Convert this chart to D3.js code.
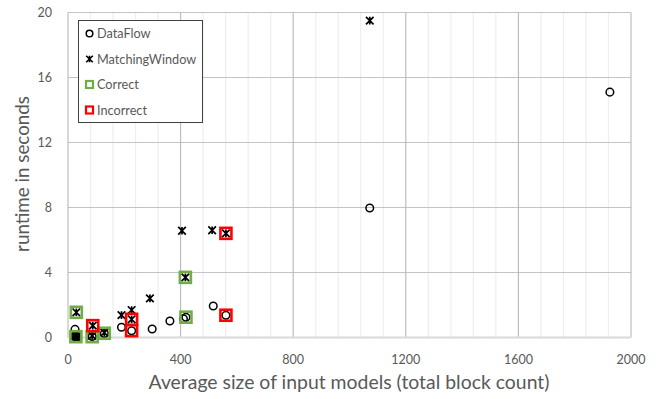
<!DOCTYPE html>
<html>
<head>
<meta charset="utf-8">
<script src="https://cdn.jsdelivr.net/npm/d3@7/dist/d3.min.js"></script>
<style>
  html, body { margin: 0; padding: 0; background: #fff; }
  svg { display: block; font-family: Lato, "Open Sans", sans-serif; }
</style>
</head>
<body>
<svg id="chart" width="664" height="399"></svg>
<script>
// ---- data (x = average block count, y = runtime seconds) ----
const dataFlow = [
  [24, 0.06], [28, 0.1], [32, 0.03], [25, 0.5],
  [86, 0.06], [129, 0.25],
  [190, 0.63], [226, 0.42], [299, 0.52], [362, 1.02],
  [410, 1.15], [419, 1.25], [516, 1.94], [561, 1.37],
  [1072, 7.97], [1925, 15.1]
];
const matchingWindow = [
  [29.6, 1.55], [26, 0.08], [31, 0.05], [86, 0.1], [88, 0.73], [129, 0.3],
  [190, 1.38], [226, 1.69], [226, 1.12], [291, 2.41],
  [405, 6.57], [417, 3.7], [512, 6.6], [561, 6.41], [1072, 19.5]
];
const correct = [
  [29.6, 1.55], [28, 0.05], [86, 0.05], [129, 0.26], [417, 3.7], [419, 1.25]
];
const incorrect = [
  [88, 0.73], [226, 1.12], [226, 0.42], [561, 6.41], [561, 1.37]
];
const xTicks = [0, 400, 800, 1200, 1600, 2000];
const yTicks = [0, 4, 8, 12, 16, 20];
const seriesNames = ["DataFlow", "MatchingWindow", "Correct", "Incorrect"];
const xTitle = "Average size of input models (total block count)";
const yTitle = "runtime in seconds";

// ---- layout ----
const svg = d3.select("#chart");
const x = d3.scaleLinear().domain([0, 2000]).range([68, 631]);
const y = d3.scaleLinear().domain([0, 20]).range([337.5, 12.5]);
const textColor = "#595959";

// minor vertical gridlines
const minor = d3.range(0, 2001, 80).filter(v => v % 400 !== 0);
svg.append("g").selectAll("line").data(minor).join("line")
  .attr("x1", d => x(d)).attr("x2", d => x(d))
  .attr("y1", y(20)).attr("y2", y(0))
  .attr("stroke", "#eeeeee").attr("stroke-width", 1.2);

// major horizontal gridlines
svg.append("g").selectAll("line").data(yTicks.filter(d => d > 0)).join("line")
  .attr("x1", x(0)).attr("x2", x(2000))
  .attr("y1", d => y(d)).attr("y2", d => y(d))
  .attr("stroke", "#c4c4c4").attr("stroke-width", 1.1);

// major vertical gridlines
svg.append("g").selectAll("line").data(xTicks).join("line")
  .attr("x1", d => x(d)).attr("x2", d => x(d))
  .attr("y1", y(20)).attr("y2", y(0))
  .attr("stroke", "#b8b8b8").attr("stroke-width", 1.1);

// x axis baseline
svg.append("line")
  .attr("x1", x(0)).attr("x2", x(2000)).attr("y1", y(0)).attr("y2", y(0))
  .attr("stroke", "#d9d9d9").attr("stroke-width", 2);

// tick labels
svg.append("g").selectAll("text").data(xTicks).join("text")
  .attr("x", d => x(d)).attr("y", 363.5)
  .attr("text-anchor", "middle").attr("font-size", 12.5).attr("fill", textColor)
  .text(d => d);
svg.append("g").selectAll("text").data(yTicks).join("text")
  .attr("x", 52).attr("y", d => y(d)).attr("dy", "0.35em")
  .attr("text-anchor", "end").attr("font-size", 12.5).attr("fill", textColor)
  .text(d => d);

// axis titles
svg.append("text").attr("x", 349).attr("y", 389)
  .attr("text-anchor", "middle").attr("font-size", 19.4).attr("fill", textColor)
  .text(xTitle);
svg.append("text").attr("transform", "translate(29,174) rotate(-90)")
  .attr("text-anchor", "middle").attr("font-size", 18.8).attr("fill", textColor)
  .text(yTitle);

// marker helpers
function starPath(s) {
  return `M${-s},${-s}L${s},${s}M${-s},${s}L${s},${-s}M0,${-s}L0,${s}`;
}
const plot = svg.append("g");

plot.append("g").selectAll("circle").data(dataFlow).join("circle")
  .attr("cx", d => x(d[0])).attr("cy", d => y(d[1])).attr("r", 3.8)
  .attr("fill", "none").attr("stroke", "#000").attr("stroke-width", 1.5);

plot.append("g").selectAll("path").data(matchingWindow).join("path")
  .attr("transform", d => `translate(${x(d[0])},${y(d[1])})`)
  .attr("d", starPath(3.8))
  .attr("fill", "none").attr("stroke", "#000").attr("stroke-width", 1.7);

const sq = 11;
plot.append("g").selectAll("rect").data(correct).join("rect")
  .attr("x", d => x(d[0]) - sq / 2).attr("y", d => y(d[1]) - sq / 2)
  .attr("width", sq).attr("height", sq)
  .attr("fill", "none").attr("stroke", "#70ad47").attr("stroke-width", 2.6);

plot.append("g").selectAll("rect").data(incorrect).join("rect")
  .attr("x", d => x(d[0]) - sq / 2).attr("y", d => y(d[1]) - sq / 2)
  .attr("width", sq).attr("height", sq)
  .attr("fill", "none").attr("stroke", "#ff0000").attr("stroke-width", 2.6);

// legend
const lg = svg.append("g");
lg.append("rect").attr("x", 78.5).attr("y", 20.5).attr("width", 124).attr("height", 102)
  .attr("fill", "#fff").attr("stroke", "#404040").attr("stroke-width", 1);
const rowsY = [33.5, 59, 84.5, 110];
const mx = 89.5;
lg.append("circle").attr("cx", mx).attr("cy", rowsY[0]).attr("r", 3.3)
  .attr("fill", "none").attr("stroke", "#000").attr("stroke-width", 1.5);
lg.append("path").attr("transform", `translate(${mx},${rowsY[1]})`).attr("d", starPath(3.3))
  .attr("fill", "none").attr("stroke", "#000").attr("stroke-width", 1.6);
lg.append("rect").attr("x", mx - 3.5).attr("y", rowsY[2] - 3.5).attr("width", 7).attr("height", 7)
  .attr("fill", "none").attr("stroke", "#70ad47").attr("stroke-width", 2.2);
lg.append("rect").attr("x", mx - 3.5).attr("y", rowsY[3] - 3.5).attr("width", 7).attr("height", 7)
  .attr("fill", "none").attr("stroke", "#ff0000").attr("stroke-width", 2.2);
lg.selectAll("text.lbl").data(seriesNames).join("text")
  .attr("class", "lbl")
  .attr("x", 97).attr("y", (d, i) => rowsY[i]).attr("dy", "0.36em")
  .attr("font-size", 12.7).attr("fill", textColor)
  .text(d => d);
</script>
</body>
</html>
